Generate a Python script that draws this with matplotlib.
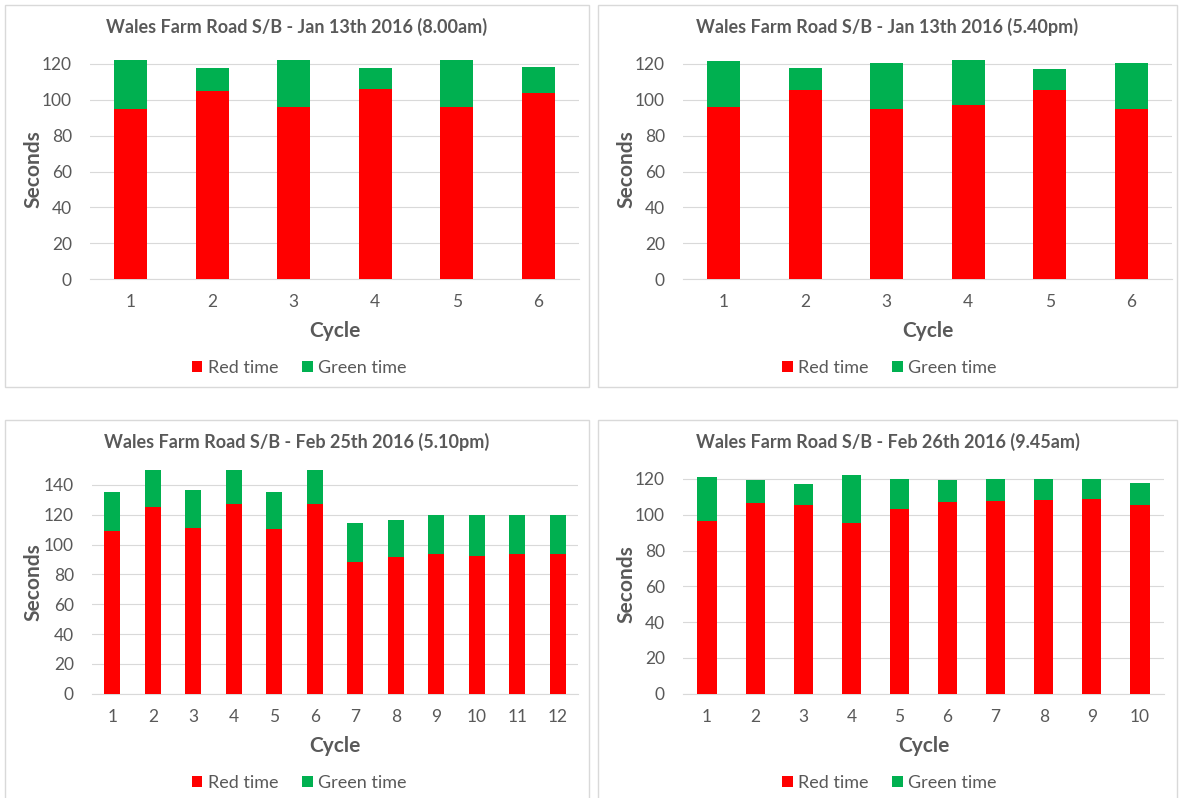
import numpy as np
import matplotlib.pyplot as plt
from matplotlib.patches import Rectangle

plt.rcParams['font.family'] = ['Lato', 'DejaVu Sans']

# values (seconds)
titles = ['Wales Farm Road S/B - Jan 13th 2016 (8.00am)',
          'Wales Farm Road S/B - Jan 13th 2016 (5.40pm)',
          'Wales Farm Road S/B - Feb 25th 2016 (5.10pm)',
          'Wales Farm Road S/B - Feb 26th 2016 (9.45am)']

red_jan13_am = [95, 105, 96, 106, 96, 104]
green_jan13_am = [27, 12.5, 26, 12, 26, 14.5]

red_jan13_pm = [96, 105.5, 95, 97, 105.5, 95]
green_jan13_pm = [25.5, 12.5, 25.5, 25, 11.5, 25.5]

red_feb25 = [109, 125, 111, 127, 110.5, 127.5, 88.5, 91.5, 94, 92.5, 94, 94]
green_feb25 = [26.5, 25, 25.5, 23, 25, 22.5, 26, 25, 26, 27.5, 26, 26]

red_feb26 = [96.5, 106.5, 105.5, 95.5, 103, 107, 107.5, 108.5, 109, 105.5]
green_feb26 = [24.5, 13, 11.5, 26.5, 17, 12.5, 12.5, 11.5, 11, 12.5]

panels = [
    (red_jan13_am, green_jan13_am),
    (red_jan13_pm, green_jan13_pm),
    (red_feb25, green_feb25),
    (red_feb26, green_feb26),
]

W, H = 1179, 798
fig = plt.figure(figsize=(W / 100, H / 100), dpi=100)

def fx(x):
    return x / W

def fy(y):
    return 1 - y / H

# layout in pixels: box, plot x-range, zero line, reference gridline, top of y, ticks
layout = [
    dict(box=(5, 5, 589, 387), x0=90, x1=579, yz=279, yr=64, rv=120, ymax=122.3, step=20, top=120),
    dict(box=(598, 5, 1177, 387), x0=683, x1=1172, yz=279, yr=64, rv=120, ymax=122.3, step=20, top=120),
    dict(box=(5, 420, 589, 800), x0=92, x1=578, yz=693.7, yr=485, rv=140, ymax=150.3, step=20, top=140),
    dict(box=(598, 420, 1177, 800), x0=683, x1=1164, yz=693.7, yr=479, rv=120, ymax=122.3, step=20, top=120),
]

txt = '#595959'
grid = '#D9D9D9'
red = '#FF0000'
green = '#00B050'

for i, (lay, (reds, greens)) in enumerate(zip(layout, panels)):
    bx0, by0, bx1, by1 = lay['box']
    fig.patches.append(Rectangle((fx(bx0), fy(by1)), fx(bx1 - bx0), (by1 - by0) / H,
                                 transform=fig.transFigure, fill=False,
                                 edgecolor=grid, linewidth=1, zorder=0))
    pxu = (lay['yz'] - lay['yr']) / lay['rv']
    ytop = lay['yz'] - pxu * lay['ymax']
    ax = fig.add_axes([fx(lay['x0']), fy(lay['yz']), fx(lay['x1'] - lay['x0']),
                       (lay['yz'] - ytop) / H])
    n = len(reds)
    cycles = np.arange(1, n + 1)
    ax.bar(cycles, reds, width=0.4, color=red, label='Red time', zorder=3)
    ax.bar(cycles, greens, width=0.4, bottom=reds, color=green, label='Green time', zorder=3)
    ax.set_xlim(0.5, n + 0.5)
    ax.set_ylim(0, lay['ymax'])
    ax.set_yticks(np.arange(0, lay['top'] + 1, lay['step']))
    ax.set_xticks(cycles)
    ax.grid(axis='y', color=grid, linewidth=0.8, zorder=0)
    for s in ['top', 'left', 'right']:
        ax.spines[s].set_visible(False)
    ax.spines['bottom'].set_color(grid)
    ax.tick_params(length=0, colors=txt, labelsize=12.5)
    ax.tick_params(axis='x', pad=11)
    ax.tick_params(axis='y', pad=13)

    cx = (bx0 + bx1) / 2
    fig.text(fx(cx), fy(by0 + 22), titles[i], ha='center', va='center',
             fontsize=13, fontweight='bold', color=txt)
    ax.set_xlabel('Cycle', fontsize=15, fontweight='bold', color=txt)
    ax.xaxis.set_label_coords(fx((lay['x0'] + lay['x1']) / 2), fy(lay['yz'] + 42),
                              transform=fig.transFigure)
    ax.set_ylabel('Seconds', fontsize=15, fontweight='bold', color=txt)
    ax.yaxis.set_label_coords(fx(bx0 + 38), fy((lay['yz'] + ytop) / 2),
                              transform=fig.transFigure)

    ax.legend(loc='center', bbox_to_anchor=(fx(cx + 2), fy(lay['yz'] + 89)),
              bbox_transform=fig.transFigure, ncol=2, frameon=False, fontsize=13,
              handlelength=0.6, handleheight=0.6, handletextpad=0.3, columnspacing=1.3,
              labelcolor=txt)

fig.savefig('out.png', dpi=100, facecolor='white')
